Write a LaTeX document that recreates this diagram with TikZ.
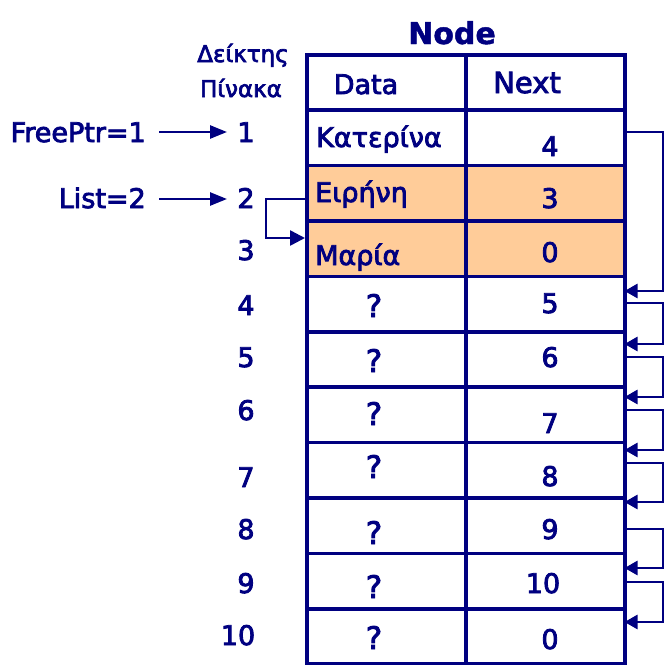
\documentclass[tikz,border=0pt]{standalone}
\usepackage{fontspec}
\setmainfont[FakeBold=3]{DejaVu Sans}
\newfontfamily\titlefont[FakeBold=1.5]{DejaVu Sans Bold}
\usetikzlibrary{arrows.meta}
\definecolor{nav}{HTML}{000080}
\definecolor{peach}{HTML}{FFCC99}
\begin{document}
\begin{tikzpicture}[x=1pt,y=-1pt,
  cell/.style={draw=nav, line width=3.6pt, minimum width=159pt, minimum height=55.4pt, inner sep=0pt, anchor=north west},
  txt/.style={text=nav, font=\fontsize{27}{30}\selectfont, inner sep=0pt, anchor=base},
  ltxt/.style={txt, anchor=base west},
  small/.style={txt, font=\fontsize{23}{26}\selectfont},
  qm/.style={txt, font=\fontsize{31}{34}\selectfont},
  conn/.style={draw=nav, line width=2.6pt, -{Triangle[length=13pt,width=14pt]}},
  ptr/.style={draw=nav, line width=2.6pt, -{Triangle[length=17pt,width=13pt]}}
]
\useasboundingbox (0,0) rectangle (665,665);

% table cells
\foreach \i/\f in {0/white,1/white,2/peach,3/peach,4/white,5/white,6/white,7/white,8/white,9/white,10/white}{
  \node[cell, fill=\f] (d\i) at (305,{53+55.4*\i}) {};
  \node[cell, fill=\f] (n\i) at (464.3,{53+55.4*\i}) {};
}

% title and headers
\node[txt, font=\titlefont\fontsize{30}{33}\selectfont] (title) at (452,44) {Node};
\node[txt] (hdata) at (366,94) {Data};
\node[txt, font=\fontsize{29}{32}\selectfont] (hnext) at (527,93) {Next};
\node[small] (ix1) at (243,62) {Δείκτης};
\node[small] (ix2) at (241,97) {Πίνακα};

% data column
\node[ltxt] (v1) at (316,147) {Κατερίνα};
\node[ltxt] (v2) at (315,202) {Ειρήνη};
\node[ltxt] (v3) at (315,265) {Μαρία};
\node[qm] (v4) at (374,317) {?};
\node[qm] (v5) at (374,372) {?};
\node[qm] (v6) at (374,425) {?};
\node[qm] (v7) at (374,478) {?};
\node[qm] (v8) at (374,544) {?};
\node[qm] (v9) at (374,598) {?};
\node[qm] (v10) at (374,649) {?};

% next column
\node[txt] (x1) at (550,156) {4};
\node[txt] (x2) at (550,208) {3};
\node[txt] (x3) at (550,262) {0};
\node[txt] (x4) at (550,313) {5};
\node[txt] (x5) at (550,367) {6};
\node[txt] (x6) at (550,433) {7};
\node[txt] (x7) at (550,486) {8};
\node[txt] (x8) at (550,539) {9};
\node[txt] (x9) at (543,593) {10};
\node[txt] (x10) at (550,649) {0};

% index labels
\node[txt] (k1) at (246,142) {1};
\node[txt] (k2) at (246,208) {2};
\node[txt] (k3) at (246,260) {3};
\node[txt] (k4) at (246,315) {4};
\node[txt] (k5) at (246,367) {5};
\node[txt] (k6) at (246,420) {6};
\node[txt] (k7) at (246,487) {7};
\node[txt] (k8) at (246,539) {8};
\node[txt] (k9) at (246,593) {9};
\node[txt] (k10) at (238,645) {10};

% pointers
\node[txt, anchor=base east] (fp) at (146,142) {FreePtr=1};
\node[txt, anchor=base east] (ls) at (146,208) {List=2};
\coordinate (fpa) at (159,132);
\coordinate (fpb) at (227,132);
\coordinate (lsa) at (159,199);
\coordinate (lsb) at (227,199);
\draw[ptr] (fpa) -- (fpb);
\draw[ptr] (lsa) -- (lsb);

% list link 2 -> 3
\coordinate (l2) at (305,199);
\coordinate (l3) at (305,238);
\coordinate (lx) at (266,0);
\draw[conn, -{Triangle[length=15pt,width=15pt]}] (l2) -- (l2 -| lx) |- (l3);

% free list links
\coordinate (rx) at (663,0);
\foreach \k/\a/\b in {1/132/291, 4/303/344, 5/357/397, 6/410/450, 7/463/502, 8/529/568, 9/582/622}{
  \coordinate (o\k) at (623,\a);
  \coordinate (i\k) at (624.5,\b);
  \draw[conn] (o\k) -- (o\k -| rx) |- (i\k);
}
\end{tikzpicture}
\end{document}
